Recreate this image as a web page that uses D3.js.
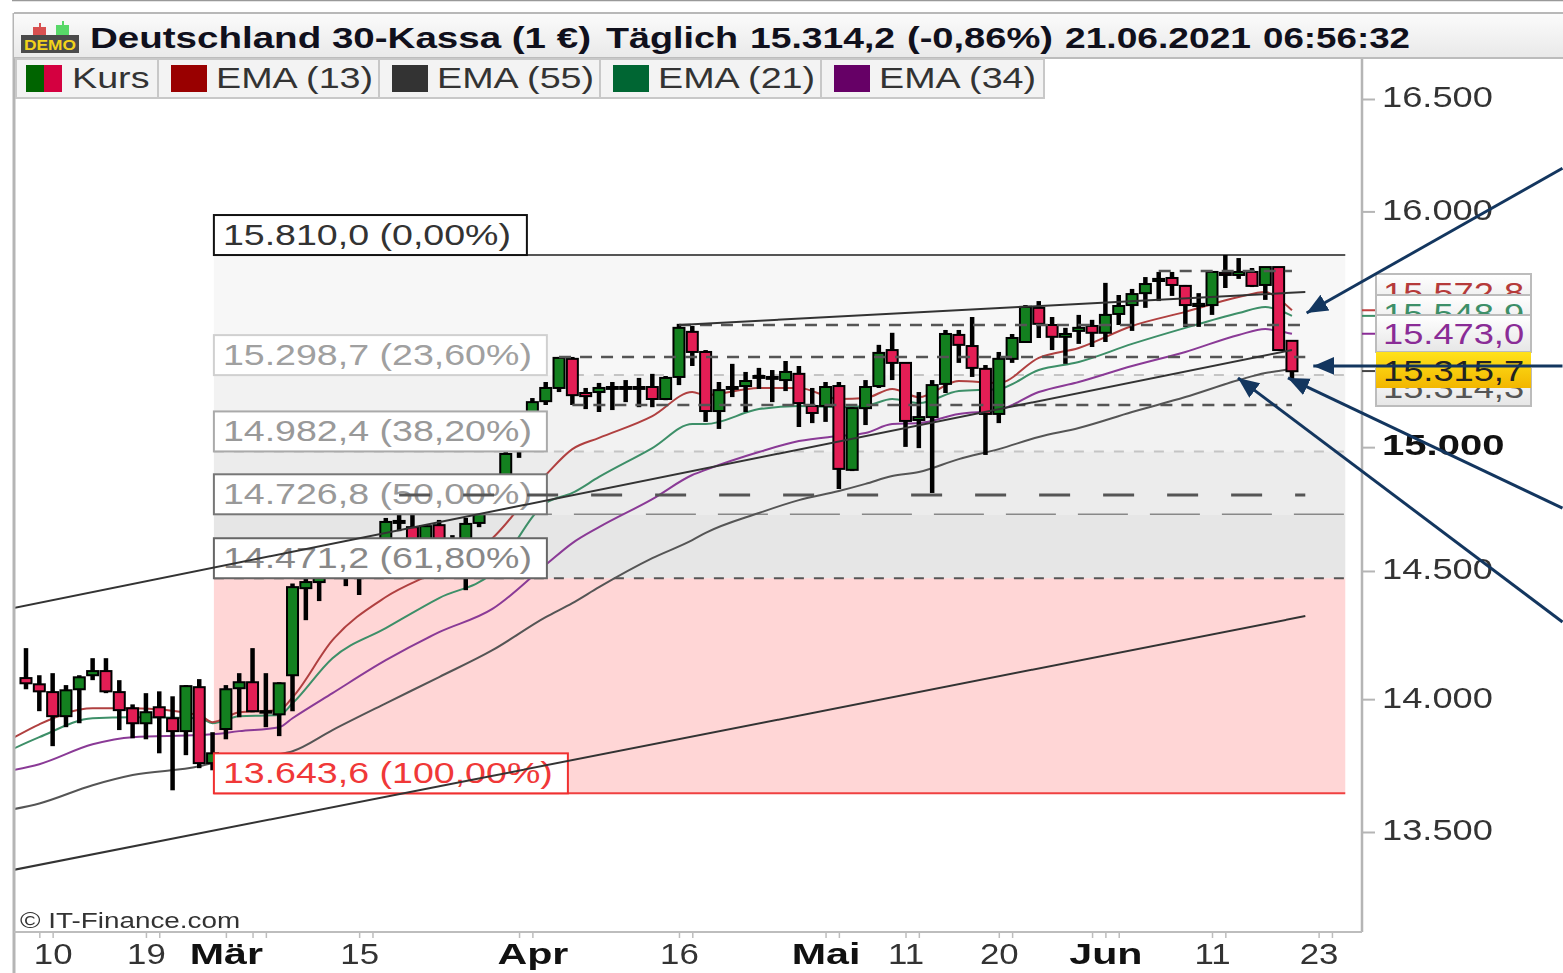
<!DOCTYPE html>
<html>
<head>
<meta charset="utf-8">
<title>Deutschland 30-Kassa</title>
<script src="https://d3js.org/d3.v7.min.js"></script>
<style>
  html, body { margin: 0; padding: 0; background: #fff; overflow: hidden; }
  svg { display: block; filter: blur(0.7px); font-family: "Liberation Sans", Arial, sans-serif; }
</style>
</head>
<body>
<div class="chart"></div>
<script>
// Trading days on the x axis (first one only carries the start of the lines)
const dates = [
  "05.02",
  "08.02", "09.02", "10.02", "11.02", "12.02",
  "15.02", "16.02", "17.02", "18.02", "19.02",
  "22.02", "23.02", "24.02", "25.02", "26.02",
  "01.03", "02.03", "03.03", "04.03", "05.03",
  "08.03", "09.03", "10.03", "11.03", "12.03",
  "15.03", "16.03", "17.03", "18.03", "19.03",
  "22.03", "23.03", "24.03", "25.03", "26.03",
  "29.03", "30.03", "31.03", "01.04", "02.04",
  "05.04", "06.04", "07.04", "08.04", "09.04",
  "12.04", "13.04", "14.04", "15.04", "16.04",
  "19.04", "20.04", "21.04", "22.04", "23.04",
  "26.04", "27.04", "28.04", "29.04", "30.04",
  "03.05", "04.05", "05.05", "06.05", "07.05",
  "10.05", "11.05", "12.05", "13.05", "14.05",
  "17.05", "18.05", "19.05", "20.05", "21.05",
  "24.05", "25.05", "26.05", "27.05", "28.05",
  "31.05", "01.06", "02.06", "03.06", "04.06",
  "07.06", "08.06", "09.06", "10.06", "11.06",
  "14.06", "15.06", "16.06", "17.06", "18.06",
  "21.06", "22.06", "23.06", "24.06"
];

// Candles, 08.02 to 21.06
const open = [
  14081, 14057, 14027, 13935, 14038, 14092, 14108, 14027, 13965, 13908,
  13969, 13927, 13878, 14046, 13757, 13886, 14042, 14065, 13950, 13942,
  14092, 14432, 14456, 14543, 14524, 14484, 14543, 14603, 14692, 14675,
  14603, 14683, 14563, 14543, 14692, 14744, 14825, 15009, 15091, 15190,
  15245, 15367, 15224, 15228, 15241, 15241, 15249, 15249, 15199, 15291,
  15481, 15396, 15149, 15241, 15253, 15287, 15291, 15278, 15304, 15170,
  15170, 15253, 14907, 15161, 15253, 15404, 15350, 15112, 15124, 15262,
  15468, 15421, 15325, 15137, 15367, 15438, 15583, 15510, 15460, 15485,
  15506, 15477, 15557, 15595, 15646, 15698, 15711, 15677, 15591, 15595,
  15733, 15724, 15737, 15681, 15758, 15443
];
const close = [
  14061, 14030, 13935, 14034, 14084, 14108, 14030, 13958, 13908, 13950,
  13931, 13878, 14050, 13757, 13794, 14038, 14065, 13954, 13954, 14061,
  14436, 14456, 14496, 14504, 14484, 14543, 14603, 14696, 14700, 14603,
  14679, 14603, 14623, 14688, 14728, 14805, 14972, 15071, 15186, 15245,
  15371, 15215, 15211, 15245, 15249, 15249, 15241, 15199, 15287, 15498,
  15396, 15149, 15236, 15249, 15274, 15295, 15283, 15312, 15182, 15141,
  15249, 14911, 15161, 15249, 15392, 15350, 15108, 15124, 15257, 15472,
  15426, 15329, 15137, 15367, 15455, 15587, 15515, 15460, 15472, 15498,
  15477, 15553, 15591, 15642, 15685, 15707, 15681, 15595, 15600, 15737,
  15724, 15737, 15677, 15758, 15404, 15315
];
const high = [
  14197, 14092, 14100, 14054, 14092, 14158, 14158, 14073, 13980, 14023,
  14030, 14011, 14054, 14077, 13874, 14054, 14100, 14197, 14100, 14065,
  14450, 14472, 14512, 14603, 14563, 14583, 14623, 14712, 14724, 14724,
  14683, 14704, 14643, 14712, 14764, 14825, 14988, 15112, 15203, 15270,
  15375, 15375, 15245, 15266, 15270, 15278, 15287, 15304, 15295, 15515,
  15506, 15404, 15270, 15346, 15312, 15329, 15320, 15358, 15337, 15245,
  15270, 15270, 15165, 15278, 15426, 15477, 15350, 15228, 15278, 15489,
  15489, 15544, 15341, 15396, 15472, 15595, 15612, 15544, 15498, 15553,
  15532, 15690, 15638, 15664, 15715, 15737, 15737, 15681, 15646, 15737,
  15810, 15797, 15754, 15758, 15758, 15443
];
const low = [
  14038, 13954, 13821, 13893, 13908, 14073, 14023, 13882, 13851, 13847,
  13794, 13655, 13787, 13738, 13730, 13847, 13931, 13950, 13893, 13859,
  13954, 14306, 14381, 14476, 14440, 14405, 14484, 14583, 14659, 14583,
  14563, 14543, 14524, 14424, 14675, 14724, 14805, 14956, 15071, 15174,
  15228, 15174, 15157, 15145, 15153, 15186, 15165, 15165, 15194, 15257,
  15337, 15104, 15075, 15207, 15145, 15241, 15186, 15232, 15083, 15099,
  15104, 14829, 14902, 15091, 15245, 15278, 15001, 14996, 14813, 15224,
  15350, 15291, 14968, 15099, 15350, 15438, 15455, 15404, 15346, 15430,
  15417, 15438, 15510, 15485, 15583, 15612, 15634, 15502, 15502, 15553,
  15668, 15707, 15672, 15617, 15404, 15278
];

// Moving averages, read at these days
const emaDates = [
  "05.02", "09.02", "15.02", "18.02", "25.02", "26.02", "02.03", "05.03", "08.03", "11.03",
  "17.03", "23.03", "29.03", "02.04", "06.04", "08.04", "14.04", "19.04", "20.04", "26.04",
  "29.04", "04.05", "06.05", "10.05", "12.05", "17.05", "20.05", "25.05", "28.05", "03.06",
  "09.06", "15.06", "17.06", "18.06", "21.06"
];
const ema13 = [
  13851, 13904, 13965, 13965, 13939, 13912, 13950, 13958, 14007, 14228,
  14397, 14504, 14631, 14886, 14992, 15038, 15128, 15228, 15215, 15245,
  15245, 15199, 15203, 15241, 15207, 15274, 15266, 15371, 15413, 15506,
  15566, 15629, 15651, 15621, 15573
];
const ema21 = [
  13810, 13855, 13927, 13931, 13927, 13908, 13935, 13939, 13984, 14158,
  14275, 14393, 14492, 14772, 14813, 14878, 14996, 15095, 15095, 15157,
  15170, 15165, 15170, 15199, 15182, 15232, 15241, 15320, 15354, 15430,
  15498, 15561, 15587, 15574, 15549
];
const ema34 = [
  13730, 13753, 13828, 13855, 13863, 13866, 13878, 13893, 13927, 14023,
  14150, 14259, 14350, 14524, 14611, 14675, 14788, 14886, 14907, 14980,
  15025, 15046, 15058, 15095, 15099, 15137, 15153, 15228, 15270, 15337,
  15396, 15468, 15493, 15485, 15473
];
const ema55 = [
  13584, 13606, 13674, 13712, 13745, 13757, 13772, 13790, 13802, 13882,
  13984, 14085, 14189, 14318, 14373, 14436, 14551, 14623, 14652, 14732,
  14784, 14821, 14850, 14882, 14898, 14951, 14992, 15042, 15079, 15145,
  15207, 15278, 15308, 15316, 15325
];

// Fibonacci levels
const fibValues = [15810, 15298.7, 14982.4, 14726.8, 14471.2, 13643.6];
const fibLabels = ["15.810,0 (0,00%)", "15.298,7 (23,60%)", "14.982,4 (38,20%)", "14.726,8 (50,00%)", "14.471,2 (61,80%)", "13.643,6 (100,00%)"];

// Dashed support and resistance levels
const levelValues = [15741, 15510, 15375, 15174, 14805];
const levelStarts = ["07.06", "16.04", "05.04", "06.04", "18.03"];
const levelEnds = ["21.06", "22.06", "22.06", "21.06", "22.06"];

// Trend lines
const trendStartDates = ["05.02", "16.04", "05.02"];
const trendStartValues = [14353, 15510, 13360];
const trendEndDates = ["21.06", "22.06", "22.06"];
const trendEndValues = [15404, 15651, 14322];

// Axis ticks and labels
const priceTicks = [16500, 16000, 15000, 14500, 14000, 13500];
const priceLabels = ["16.500", "16.000", "15.000", "14.500", "14.000", "13.500"];
const minorTickDates = [
  "09.02", "10.02", "19.02", "22.02", "01.03", "03.03", "04.03", "15.03", "16.03", "31.03",
  "01.04", "16.04", "19.04", "03.05", "04.05", "11.05", "12.05", "20.05", "21.05", "31.05",
  "01.06", "02.06", "11.06", "14.06", "23.06", "24.06"
];
const labelDates = ["10.02", "19.02", "01.03", "15.03", "01.04", "16.04", "03.05", "11.05", "20.05", "01.06", "11.06", "23.06"];
const labelTexts = ["10", "19", "Mär", "15", "Apr", "16", "Mai", "11", "20", "Jun", "11", "23"];
const boldLabels = ["Mär", "Apr", "Mai", "Jun"];

// Legend
const legendNames = ["Kurs", "EMA (13)", "EMA (55)", "EMA (21)", "EMA (34)"];
const legendColors = ["#006400", "#990000", "#333333", "#006633", "#660066"];

// Title, split in words because the source spaces them out wider
const titleParts = ["Deutschland 30-Kassa (1 €)", "Täglich", "15.314,2", "(-0,86%)", "21.06.2021", "06:56:32"];

// Current values beside the axis
const sideValues = [15572.8, 15548.9, 15473, 15314.3, 15315.7];
const sideTexts = ["15.572,8", "15.548,9", "15.473,0", "15.314,3", "15.315,7"];
const sideColors = ["#b53a3a", "#3d8f68", "#8a2c96", "#555555", "#222222"];
const sideTickColors = ["#c04040", "#3d8f68", "#8a2c96", "#444444", "#444444"];

// Arrows drawn over the picture: position on the day axis and price
const arrowTailDays = [116.3, 116.3, 116.3, 116.3];
const arrowTailValues = [16190, 15337, 14752, 14299];
const arrowTipDays = [97.1, 97.6, 95.7, 91.95];
const arrowTipValues = [15561, 15337, 15287, 15287];

const width = 1563;
const height = 973;
const plot = { left: 15, right: 1362, top: 58, bottom: 932 };

const svg = d3.select(".chart")
  .append("svg")
  .attr("width", width)
  .attr("height", height)
  .attr("viewBox", `0 0 ${width} ${height}`);

const defs = svg.append("defs");

function verticalGradient(id, top, bottom) {
  const gradient = defs.append("linearGradient")
    .attr("id", id)
    .attr("x1", "0%").attr("y1", "0%")
    .attr("x2", "0%").attr("y2", "100%");
  gradient.append("stop").attr("offset", "0%").attr("stop-color", top);
  gradient.append("stop").attr("offset", "100%").attr("stop-color", bottom);
}
verticalGradient("barFill", "#fbfbfb", "#e9e9e9");
verticalGradient("boxFill", "#ffffff", "#e6e6e6");
verticalGradient("goldFill", "#ffe21a", "#f2b600");

defs.append("clipPath").attr("id", "plotClip")
  .append("rect")
  .attr("x", plot.left)
  .attr("y", plot.top)
  .attr("width", plot.right - plot.left)
  .attr("height", plot.bottom - plot.top);

const arrowColor = "#13365f";
defs.append("marker")
  .attr("id", "arrowHead")
  .attr("markerUnits", "userSpaceOnUse")
  .attr("markerWidth", 24).attr("markerHeight", 20)
  .attr("refX", 21).attr("refY", 10)
  .attr("orient", "auto")
  .append("path")
  .attr("d", "M0,1 L21,10 L0,19 Z")
  .attr("fill", arrowColor);

// Scales: days are evenly spaced, prices are on a log scale
const x = d3.scalePoint()
  .domain(dates)
  .range([12.67, 1331.94]);
const y = d3.scaleLog()
  .domain([13500, 16500])
  .range([832, 99]);
const xAt = day => x(dates[0]) + day * x.step();

// Stretch text sideways, the source picture is wider than it is tall
function stretch(selection, factor) {
  selection.each(function () {
    this.setAttribute("textLength", this.getComputedTextLength() * factor);
    this.setAttribute("lengthAdjust", "spacingAndGlyphs");
  });
}

const fibLeft = xAt(15.1);
const fibRight = xAt(100);

// Background bands between the fibonacci levels
const bandColors = ["#f7f7f7", "#f2f2f2", "#ececec", "#e6e6e6", "#ffd6d6"];
svg.append("g").selectAll("rect")
  .data(bandColors)
  .join("rect")
  .attr("x", fibLeft)
  .attr("width", fibRight - fibLeft)
  .attr("y", (d, i) => y(fibValues[i]))
  .attr("height", (d, i) => y(fibValues[i + 1]) - y(fibValues[i]))
  .attr("fill", d => d);

const chart = svg.append("g").attr("clip-path", "url(#plotClip)");

// Fibonacci lines
const fibStyles = [
  { color: "#555", w: 2, dash: null },
  { color: "#c4c4c4", w: 2, dash: "10 10" },
  { color: "#c4c4c4", w: 2, dash: "10 10" },
  { color: "#888", w: 1.6, dash: "50 22" },
  { color: "#555", w: 2, dash: "10 10" },
  { color: "#f04040", w: 2, dash: null }
];
chart.append("g").selectAll("line")
  .data(fibValues)
  .join("line")
  .attr("x1", fibLeft)
  .attr("x2", fibRight)
  .attr("y1", d => y(d))
  .attr("y2", d => y(d))
  .attr("stroke", (d, i) => fibStyles[i].color)
  .attr("stroke-width", (d, i) => fibStyles[i].w)
  .attr("stroke-dasharray", (d, i) => fibStyles[i].dash);

// Moving averages
const emaLine = d3.line()
  .x((d, i) => x(emaDates[i]))
  .y(d => y(d))
  .curve(d3.curveMonotoneX);
[[ema55, "#555555"], [ema34, "#8a3a96"], [ema21, "#3d8f68"], [ema13, "#b04040"]].forEach(([series, color]) => {
  chart.append("path")
    .datum(series)
    .attr("fill", "none")
    .attr("stroke", color)
    .attr("stroke-width", 2)
    .attr("d", emaLine);
});

// Candles
const candles = open.map((o, i) => ({ date: dates[i + 1], o, c: close[i], h: high[i], l: low[i] }));
const bodyWidth = 11;
const candle = chart.append("g").selectAll("g")
  .data(candles)
  .join("g");
candle.append("line")
  .attr("x1", d => x(d.date))
  .attr("x2", d => x(d.date))
  .attr("y1", d => y(d.h))
  .attr("y2", d => y(d.l))
  .attr("stroke", "#000")
  .attr("stroke-width", 4.5);
candle.append("rect")
  .attr("x", d => x(d.date) - bodyWidth / 2)
  .attr("width", bodyWidth)
  .attr("y", d => y(Math.max(d.o, d.c)))
  .attr("height", d => Math.max(1.5, Math.abs(y(d.o) - y(d.c))))
  .attr("fill", d => d.c >= d.o ? "#13801f" : "#e31e55")
  .attr("stroke", "#000")
  .attr("stroke-width", 2);

// Fibonacci labels sit on top of the candles, the bottom edge is on the level
const fibBoxWidths = [313, 333, 333, 333, 333, 354];
const fibBorders = ["#111", "#d0d0d0", "#aaa", "#777", "#666", "#f03030"];
const fibTextColors = ["#333", "#a0a0a0", "#999", "#999", "#888", "#f03838"];
const fibLabel = svg.append("g").selectAll("g")
  .data(fibLabels)
  .join("g")
  .attr("transform", (d, i) => `translate(${fibLeft},${y(fibValues[i]) - 40})`);
fibLabel.append("rect")
  .attr("width", (d, i) => fibBoxWidths[i])
  .attr("height", 40)
  .attr("fill", "#fff")
  .attr("stroke", (d, i) => fibBorders[i])
  .attr("stroke-width", 2);
fibLabel.append("text")
  .attr("x", 9)
  .attr("y", 30)
  .attr("font-size", 29)
  .attr("fill", (d, i) => fibTextColors[i])
  .text(d => d)
  .call(stretch, 1.295);

// Dashed levels and trend lines go over the labels
const overlay = svg.append("g").attr("clip-path", "url(#plotClip)");
const levelDash = ["12 9", "12 9", "12 9", "12 9", "31 33"];
overlay.append("g").selectAll("line")
  .data(levelValues)
  .join("line")
  .attr("x1", (d, i) => x(levelStarts[i]))
  .attr("x2", (d, i) => x(levelEnds[i]))
  .attr("y1", d => y(d))
  .attr("y2", d => y(d))
  .attr("stroke", "#555")
  .attr("stroke-width", (d, i) => i === 4 ? 3 : 2.4)
  .attr("stroke-dasharray", (d, i) => levelDash[i]);
overlay.append("g").selectAll("line")
  .data(trendStartDates)
  .join("line")
  .attr("x1", d => x(d))
  .attr("y1", (d, i) => y(trendStartValues[i]))
  .attr("x2", (d, i) => x(trendEndDates[i]))
  .attr("y2", (d, i) => y(trendEndValues[i]))
  .attr("stroke", "#333")
  .attr("stroke-width", 2);

overlay.append("text")
  .attr("x", 20)
  .attr("y", 928)
  .attr("font-size", 22)
  .attr("fill", "#333")
  .text("© IT-Finance.com")
  .call(stretch, 1.266);

// Right axis
const yAxis = svg.append("g")
  .attr("transform", `translate(${plot.right},0)`)
  .call(d3.axisRight(y)
    .tickValues(priceTicks)
    .tickSize(13)
    .tickPadding(7)
    .tickFormat((d, i) => priceLabels[i]));
yAxis.select(".domain").remove();
yAxis.selectAll("line").attr("stroke", "#b5b5b5").attr("stroke-width", 2);
yAxis.selectAll("text")
  .attr("font-size", 29)
  .attr("font-family", "inherit")
  .attr("dy", "0.27em")
  .attr("font-weight", d => d === 15000 ? "bold" : "normal")
  .attr("fill", d => d === 15000 ? "#111" : "#333")
  .each(function (d) { d3.select(this).call(stretch, d === 15000 ? 1.38 : 1.25); });

// Axis lines of the frame
svg.append("line")
  .attr("x1", plot.right).attr("x2", plot.right)
  .attr("y1", plot.top).attr("y2", plot.bottom)
  .attr("stroke", "#b5b5b5").attr("stroke-width", 2.5);
svg.append("line")
  .attr("x1", 14).attr("x2", 14)
  .attr("y1", 13).attr("y2", height)
  .attr("stroke", "#b5b5b5").attr("stroke-width", 3);

// Bottom axis: small ticks, then labels
const xTicks = svg.append("g")
  .attr("transform", `translate(0,${plot.bottom})`)
  .call(d3.axisBottom(x).tickValues(minorTickDates).tickSize(6).tickFormat(""));
xTicks.selectAll("line").attr("stroke", "#bdbdbd").attr("stroke-width", 1.5);
xTicks.select(".domain").remove();
svg.append("line")
  .attr("x1", 14).attr("x2", plot.right)
  .attr("y1", plot.bottom).attr("y2", plot.bottom)
  .attr("stroke", "#bdbdbd").attr("stroke-width", 2);

const xLabels = svg.append("g")
  .attr("transform", `translate(0,${plot.bottom})`)
  .call(d3.axisBottom(x)
    .tickValues(labelDates)
    .tickSize(0)
    .tickPadding(11)
    .tickFormat((d, i) => labelTexts[i]));
xLabels.select(".domain").remove();
xLabels.selectAll("text")
  .attr("font-size", 29)
  .attr("font-family", "inherit")
  .attr("dy", "0.71em")
  .attr("font-weight", (d, i) => boldLabels.includes(labelTexts[i]) ? "bold" : "normal")
  .attr("fill", (d, i) => boldLabels.includes(labelTexts[i]) ? "#111" : "#333")
  .each(function (d, i) { d3.select(this).call(stretch, boldLabels.includes(labelTexts[i]) ? 1.42 : 1.2); });

// Value boxes beside the axis, each one overlaps the one before
const boxTops = [274, 295, 315, 369, 352];
const boxHeights = [37, 37, 37, 37, 36];
const sideTicks = svg.append("g");
sideValues.slice(0, 4).forEach((v, i) => {
  const tickValue = i === 3 ? sideValues[4] : v;
  sideTicks.append("line")
    .attr("x1", plot.right).attr("x2", plot.right + 13)
    .attr("y1", y(tickValue)).attr("y2", y(tickValue))
    .attr("stroke", sideTickColors[i]).attr("stroke-width", 2);
});
const sideBox = svg.append("g").selectAll("g")
  .data(sideTexts)
  .join("g")
  .attr("transform", (d, i) => `translate(1376,${boxTops[i]})`);
sideBox.append("rect")
  .attr("width", 155)
  .attr("height", (d, i) => boxHeights[i])
  .attr("fill", (d, i) => i === 4 ? "url(#goldFill)" : "url(#boxFill)")
  .attr("stroke", (d, i) => i === 4 ? "none" : "#bcbcbc")
  .attr("stroke-width", 2);
sideBox.append("text")
  .attr("x", 7)
  .attr("y", 29)
  .attr("font-size", 29)
  .attr("fill", (d, i) => sideColors[i])
  .text(d => d)
  .call(stretch, 1.25);

// Title bar
svg.append("rect")
  .attr("x", 14).attr("y", 13)
  .attr("width", width - 14).attr("height", 45)
  .attr("fill", "url(#barFill)");
svg.append("line")
  .attr("x1", 14).attr("x2", width)
  .attr("y1", 13).attr("y2", 13)
  .attr("stroke", "#b8b8b8").attr("stroke-width", 2);
svg.append("line")
  .attr("x1", 14).attr("x2", width)
  .attr("y1", 58).attr("y2", 58)
  .attr("stroke", "#bcbcbc").attr("stroke-width", 2);
svg.append("line")
  .attr("x1", 12).attr("x2", width)
  .attr("y1", 0.5).attr("y2", 0.5)
  .attr("stroke", "#999").attr("stroke-width", 1.5);

// Demo icon
const icon = svg.append("g").attr("transform", "translate(21,22)");
icon.append("rect").attr("x", 12).attr("y", 5).attr("width", 13).attr("height", 9).attr("fill", "#d85050");
icon.append("rect").attr("x", 35).attr("y", 3).attr("width", 13).attr("height", 11).attr("fill", "#58d868");
icon.append("rect").attr("x", 18).attr("y", 1).attr("width", 2).attr("height", 5).attr("fill", "#d85050");
icon.append("rect").attr("x", 41).attr("y", -1).attr("width", 2).attr("height", 5).attr("fill", "#58d868");
icon.append("rect").attr("y", 13).attr("width", 58).attr("height", 18).attr("fill", "#4a4a4a");
icon.append("text")
  .attr("x", 29).attr("y", 27.5)
  .attr("text-anchor", "middle")
  .attr("font-size", 14).attr("font-weight", "bold")
  .attr("fill", "#f3d21a")
  .attr("textLength", 52).attr("lengthAdjust", "spacingAndGlyphs")
  .text("DEMO");

const titleLefts = [90, 606, 750, 907, 1065, 1263];
const titleWidths = [501, 132, 145, 146, 186, 147];
svg.append("g").selectAll("text")
  .data(titleParts)
  .join("text")
  .attr("x", (d, i) => titleLefts[i])
  .attr("y", 48)
  .attr("font-size", 30)
  .attr("font-weight", "bold")
  .attr("fill", "#10101c")
  .attr("textLength", (d, i) => titleWidths[i])
  .attr("lengthAdjust", "spacingAndGlyphs")
  .text(d => d);

// Legend
const cellLefts = [16, 158, 379, 600, 821];
const cellWidths = [142, 221, 221, 221, 223];
const legend = svg.append("g").selectAll("g")
  .data(legendNames)
  .join("g")
  .attr("transform", (d, i) => `translate(${cellLefts[i]},59)`);
legend.append("rect")
  .attr("width", (d, i) => cellWidths[i])
  .attr("height", 39)
  .attr("fill", "#f3f3f3")
  .attr("stroke", "#c8c8c8")
  .attr("stroke-width", 2);
legend.append("rect")
  .attr("x", (d, i) => i === 0 ? 10 : 13)
  .attr("y", 6)
  .attr("width", 36)
  .attr("height", 27)
  .attr("fill", (d, i) => legendColors[i]);
legend.filter((d, i) => i === 0).append("rect")
  .attr("x", 28)
  .attr("y", 6)
  .attr("width", 18)
  .attr("height", 27)
  .attr("fill", "#d40040");
legend.append("text")
  .attr("x", (d, i) => i === 0 ? 56 : 58)
  .attr("y", 29)
  .attr("font-size", 29)
  .attr("fill", "#333")
  .text(d => d)
  .call(stretch, 1.3);

// Arrows
svg.append("g").selectAll("line")
  .data(arrowTipDays)
  .join("line")
  .attr("x1", (d, i) => xAt(arrowTailDays[i]))
  .attr("y1", (d, i) => y(arrowTailValues[i]))
  .attr("x2", d => xAt(d))
  .attr("y2", (d, i) => y(arrowTipValues[i]))
  .attr("stroke", arrowColor)
  .attr("stroke-width", 3)
  .attr("marker-end", "url(#arrowHead)");
</script>
</body>
</html>
